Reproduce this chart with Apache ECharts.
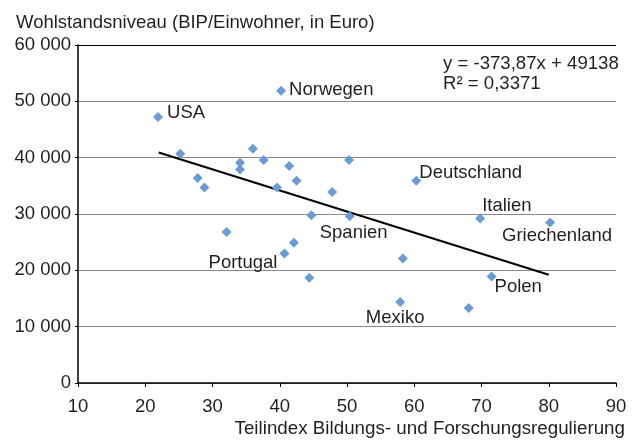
<!DOCTYPE html>
<html>
<head>
<meta charset="utf-8">
<script src="https://cdn.jsdelivr.net/npm/echarts@6/dist/echarts.min.js"></script>
<style>html,body{margin:0;padding:0;background:#fff}#c{width:640px;height:440px}</style>
</head>
<body>
<div id="c"></div>
<script>
// Data
var countries = ['USA','Norwegen','','','','','','','','','','','','','','Spanien','','Portugal','','','Deutschland','','Mexiko','','Italien','Polen','Griechenland'];
var xValues = [21.9,40.2,25.2,27.8,28.8,34.1,34.1,36.0,37.6,39.6,41.4,42.5,47.8,50.3,44.7,50.4,32.1,40.7,42.1,44.4,60.3,58.3,57.9,68.1,69.8,71.5,80.2];
var yValues = [47200,51900,40700,36400,34700,39100,37900,41600,39600,34700,38500,35900,33900,39600,29800,29600,26800,23000,24900,18700,35900,22100,14400,13300,29200,18900,28500];
var trendX = [22, 80];
var trendY = [40913, 19228];
var equationText = ['y = -373,87x + 49138', 'R\u00B2 = 0,3371'];
var xTicks = [10,20,30,40,50,60,70,80,90];
var yTicks = [0,10000,20000,30000,40000,50000,60000];

var labelStyles = {
  'USA': {position:'right', offset:[-1,-4]},
  'Norwegen': {position:'right', offset:[-2,-1]},
  'Deutschland': {position:'right', offset:[-7,-8]},
  'Italien': {position:'right', offset:[-8,-13]},
  'Griechenland': {position:'bottom', offset:[7,-6]},
  'Spanien': {position:'bottom', offset:[4,-3]},
  'Portugal': {position:'left', offset:[3,9]},
  'Mexiko': {position:'bottom', offset:[-5,-3]},
  'Polen': {position:'right', offset:[-7,10]}
};

var font = 'Liberation Sans, Arial, Helvetica, sans-serif';
var txt = '#231f20';
var fs = 18.5;

var pts = xValues.map(function(x, i){
  var d = {name: countries[i], value: [x, yValues[i]]};
  if (countries[i] && labelStyles[countries[i]]) {
    var s = labelStyles[countries[i]];
    d.label = {show:true, position:s.position, offset:s.offset, formatter:'{b}', fontSize:fs, color:txt, opacity:1, fontFamily:font};
  }
  return d;
});

var chart = echarts.init(document.getElementById('c'), null, {renderer:'canvas'});
chart.setOption({
  animation:false,
  backgroundColor:'#fff',
  grid:{left:78, right:24, top:45, bottom:57, containLabel:false, outerBoundsMode:'none'},
  xAxis:{
    type:'value', min:xTicks[0], max:xTicks[xTicks.length-1], interval:10,
    name:'Teilindex Bildungs- und Forschungsregulierung',
    nameLocation:'end', nameGap:9,
    nameTextStyle:{align:'right', verticalAlign:'top', padding:[36,0,0,0], fontSize:18.8, color:txt, fontFamily:font},
    axisLine:{show:true, onZero:false, lineStyle:{color:'#000', width:1.5}},
    axisTick:{show:true, length:4, lineStyle:{color:'#000', width:1}},
    axisLabel:{fontSize:fs, color:txt, fontFamily:font, margin:14},
    splitLine:{show:false}
  },
  yAxis:{
    type:'value', min:yTicks[0], max:yTicks[yTicks.length-1], interval:10000,
    name:'Wohlstandsniveau (BIP/Einwohner, in Euro)',
    nameLocation:'end', nameGap:13,
    nameTextStyle:{align:'left', padding:[0,0,0,-62], fontSize:fs, color:txt, fontFamily:font},
    axisLine:{show:true, lineStyle:{color:'#000', width:1.5}},
    axisTick:{show:true, length:3, lineStyle:{color:'#000', width:1}},
    axisLabel:{fontSize:fs, color:txt, fontFamily:font, margin:7,
      formatter:function(v){ return String(v).replace(/\B(?=(\d{3})+(?!\d))/g,' '); }},
    splitLine:{show:true, lineStyle:{color:['#8a8a8a','#8a8a8a','#8a8a8a','#8a8a8a','#8a8a8a','#8a8a8a','#000'], width:1.2}}
  },
  series:[
    {
      type:'line', data:[[trendX[0],trendY[0]],[trendX[1],trendY[1]]],
      symbol:'none', lineStyle:{color:'#000', width:2}, z:3, silent:true
    },
    {
      type:'scatter', data:pts, symbol:'diamond', symbolSize:10,
      itemStyle:{color:'#6a9bd4', opacity:1}, z:4
    }
  ],
  graphic:[
    {type:'text', left:443, top:54, style:{text:equationText.join('\n'), font:'18.6px '+font, fill:txt, lineHeight:20}}
  ]
});
</script>
</body>
</html>
